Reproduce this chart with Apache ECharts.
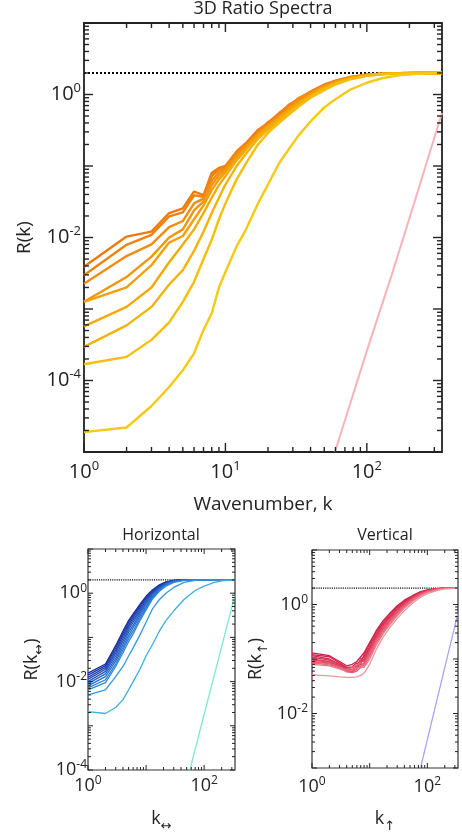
<!DOCTYPE html>
<html><head><meta charset="utf-8">
<script src="https://cdn.jsdelivr.net/npm/echarts@6/dist/echarts.min.js"></script>
<style>html,body{margin:0;padding:0;background:#fff}#c{width:462px;height:834px}</style>
</head><body><div id="c"></div>
<script>
// ---------------- DATA ----------------
const kTop = [1,2,3,4,5,6,7,8,9,10,12,14,17,20,24,28,33,40,50,60,75,100,130,170,230,340];
const top1 = [3.9e-3,1.03e-2,1.21e-2,2.2e-2,2.55e-2,4.4e-2,3.9e-2,8.0e-2,9.4e-2,0.10,0.16,0.21,0.32,0.40,0.55,0.70,0.88,1.10,1.38,1.55,1.75,1.90,1.96,1.99,2.0,2.0];
const top2 = [2.96e-3,7.9e-3,1.09e-2,1.97e-2,2.25e-2,3.9e-2,3.7e-2,7.2e-2,9.0e-2,0.097,0.155,0.20,0.30,0.41,0.52,0.72,0.85,1.08,1.35,1.56,1.74,1.89,1.96,1.99,2.0,2.0];
const top3 = [2.25e-3,5.5e-3,8.0e-3,1.4e-2,1.7e-2,3.0e-2,3.5e-2,6.2e-2,8.2e-2,0.093,0.15,0.19,0.29,0.38,0.50,0.66,0.90,1.05,1.32,1.52,1.72,1.88,1.95,1.99,2.0,2.0];
const top4 = [1.26e-3,2.8e-3,5.4e-3,1.0e-2,1.3e-2,2.4e-2,3.2e-2,5.4e-2,7.4e-2,0.088,0.14,0.185,0.28,0.37,0.49,0.63,0.80,1.02,1.30,1.50,1.70,1.87,1.95,1.98,2.0,2.0];
const top5 = [1.26e-3,2.0e-3,4.1e-3,8.5e-3,1.05e-2,1.8e-2,2.8e-2,4.6e-2,6.5e-2,0.082,0.13,0.18,0.27,0.36,0.47,0.61,0.78,1.0,1.27,1.48,1.69,1.86,1.94,1.98,2.0,2.0];
const top6 = [5.7e-4,1.07e-3,2.0e-3,4.5e-3,8.0e-3,1.3e-2,2.2e-2,3.6e-2,5.4e-2,0.072,0.12,0.17,0.26,0.34,0.45,0.58,0.75,0.97,1.24,1.45,1.67,1.85,1.94,1.98,2.0,2.0];
const top7 = [2.95e-4,5.9e-4,1.07e-3,2.2e-3,3.5e-3,6.5e-3,1.2e-2,2.2e-2,3.6e-2,0.055,0.10,0.15,0.24,0.32,0.43,0.56,0.72,0.94,1.20,1.42,1.65,1.84,1.93,1.98,2.0,2.0];
const top8 = [1.69e-4,2.14e-4,3.7e-4,6.5e-4,1.26e-3,2.4e-3,5.0e-3,9.3e-3,1.8e-2,0.030,0.065,0.11,0.20,0.29,0.40,0.52,0.68,0.90,1.15,1.38,1.62,1.82,1.92,1.97,2.0,2.0];
const top9 = [1.9e-5,2.2e-5,4.4e-5,8.1e-5,1.39e-4,2.4e-4,5.1e-4,8.7e-4,2.0e-3,3.3e-3,7.5e-3,1.3e-2,3.0e-2,5.5e-2,0.11,0.17,0.27,0.42,0.66,0.86,1.15,1.46,1.70,1.86,1.95,2.0];
const kPinkTop = [59.5,100,150,220,340];
const pinkTop = [1e-5,2.6e-4,3.0e-3,3.4e-2,0.55];

const kBlue = [1,2,3,4,5,6,8,10,13,17,22,30,45,70,100,150,200,340];
const blue1 = [1.55e-2,2.5e-2,6.5e-2,0.14,0.24,0.34,0.58,0.85,1.2,1.55,1.8,1.95,2.0,2.0,2.0,2.0,2.0,2.0];
const blue2 = [1.4e-2,2.3e-2,5.8e-2,0.125,0.215,0.31,0.54,0.80,1.15,1.5,1.78,1.94,2.0,2.0,2.0,2.0,2.0,2.0];
const blue3 = [1.25e-2,2.1e-2,5.0e-2,0.11,0.19,0.28,0.49,0.74,1.1,1.45,1.75,1.93,2.0,2.0,2.0,2.0,2.0,2.0];
const blue4 = [1.12e-2,1.9e-2,4.4e-2,0.095,0.17,0.25,0.44,0.68,1.04,1.4,1.72,1.92,2.0,2.0,2.0,2.0,2.0,2.0];
const blue5 = [1.0e-2,1.7e-2,3.8e-2,0.082,0.15,0.22,0.40,0.62,0.98,1.35,1.68,1.9,1.99,2.0,2.0,2.0,2.0,2.0];
const blue6 = [9.0e-3,1.5e-2,3.3e-2,0.070,0.13,0.19,0.36,0.56,0.92,1.3,1.64,1.88,1.99,2.0,2.0,2.0,2.0,2.0];
const blue7 = [8.0e-3,1.3e-2,2.9e-2,0.060,0.11,0.165,0.32,0.50,0.86,1.24,1.58,1.85,1.98,2.0,2.0,2.0,2.0,2.0];
const blue8 = [7.2e-3,1.1e-2,2.5e-2,0.052,0.095,0.14,0.28,0.46,0.80,1.17,1.52,1.8,1.97,2.0,2.0,2.0,2.0,2.0];
const blue9 = [6.5e-3,9.5e-3,2.2e-2,4.5e-2,8.0e-2,0.12,0.25,0.42,0.75,1.1,1.45,1.75,1.95,2.0,2.0,2.0,2.0,2.0];
const blue10 = [5.0e-3,6.5e-3,1.3e-2,2.2e-2,3.8e-2,5.8e-2,0.12,0.22,0.45,0.72,1.0,1.35,1.75,1.95,2.0,2.0,2.0,2.0];
const blue11 = [2.1e-3,1.9e-3,2.6e-3,3.9e-3,6.5e-3,1.0e-2,2.0e-2,3.8e-2,7.0e-2,0.14,0.24,0.40,0.72,1.15,1.45,1.75,1.9,2.0];
const kAqua = [56.7,340];
const aqua = [1e-4,0.92];

const kRed = [1,2,3,4,5,6,7,8,10,13,17,22,30,40,55,75,100,150,200,340];
const red1 = [0.13,0.115,0.09,0.075,0.08,0.09,0.11,0.13,0.2,0.33,0.5,0.68,0.95,1.2,1.45,1.7,1.85,1.96,1.99,2.0];
const red2 = [0.12,0.11,0.085,0.07,0.072,0.085,0.08,0.12,0.19,0.31,0.46,0.64,0.9,1.15,1.42,1.68,1.84,1.96,1.99,2.0];
const red3 = [0.115,0.1,0.08,0.068,0.07,0.075,0.1,0.11,0.17,0.28,0.44,0.6,0.85,1.1,1.38,1.65,1.82,1.95,1.99,2.0];
const red4 = [0.108,0.095,0.078,0.065,0.062,0.07,0.09,0.1,0.16,0.27,0.42,0.58,0.82,1.08,1.35,1.62,1.8,1.94,1.98,2.0];
const red5 = [0.10,0.09,0.075,0.062,0.06,0.068,0.085,0.095,0.15,0.25,0.4,0.55,0.78,1.03,1.32,1.6,1.78,1.93,1.98,2.0];
const red6 = [0.095,0.088,0.072,0.06,0.058,0.065,0.1,0.09,0.14,0.24,0.37,0.52,0.75,1.0,1.3,1.57,1.76,1.92,1.98,2.0];
const red7 = [0.09,0.085,0.07,0.062,0.065,0.07,0.075,0.085,0.13,0.22,0.35,0.5,0.72,0.97,1.27,1.55,1.75,1.92,1.97,2.0];
const red8 = [0.087,0.082,0.068,0.058,0.056,0.06,0.07,0.08,0.12,0.21,0.33,0.48,0.7,0.95,1.24,1.52,1.73,1.91,1.97,2.0];
const red9 = [0.085,0.078,0.07,0.064,0.07,0.078,0.085,0.075,0.11,0.2,0.31,0.45,0.66,0.9,1.2,1.48,1.7,1.9,1.97,2.0];
const red10 = [0.08,0.075,0.066,0.06,0.062,0.068,0.072,0.07,0.1,0.18,0.29,0.42,0.62,0.86,1.15,1.44,1.67,1.88,1.96,2.0];
const red11 = [0.051,0.049,0.047,0.046,0.046,0.047,0.05,0.055,0.08,0.15,0.25,0.37,0.55,0.77,1.05,1.35,1.58,1.82,1.93,2.0];
const kLav = [76,340];
const lav = [1e-3,0.70];

const saturationLevel = 2;
const kExtent = [1,340];
const topLabelExpX = [0,1,2], topLabelExpY = [0,-2,-4];
const hLabelExpX = [0,2], hLabelExpY = [0,-2,-4];
const vLabelExpX = [0,2], vLabelExpY = [0,-2];

// ---------------- STYLE ----------------
const FONT = 'Open Sans';
const topColors = ['#ee7a0e','#ef8311','#f18c10','#f2950e','#f39f0c','#f4a90b','#f5b20a','#f6bd0b','#f6c915'];
const blueColors = ['#1b2a9a','#1d34a4','#1f3fad','#214ab6','#2356be','#2562c6','#286ecd','#2b7ad3','#2f87d8','#3597dc','#3cb0e0'];
const redColors = ['#d01c44','#d4234a','#d82b51','#db3457','#de3e5e','#e14865','#e3526c','#e55d74','#e8687c','#ea7485','#f0959f'];

const topLines = [top1,top2,top3,top4,top5,top6,top7,top8,top9];
const blueLines = [blue1,blue2,blue3,blue4,blue5,blue6,blue7,blue8,blue9,blue10,blue11];
const redLines = [red1,red2,red3,red4,red5,red6,red7,red8,red9,red10,red11];

function pairs(ks, vs) { return ks.map((k, i) => [k, vs[i]]); }

function logTicks(minExp, maxExp, maxVal, isX) {
  const res = [];
  for (let e = minExp; e <= maxExp; e++) {
    const d = Math.pow(10, e);
    res.push(isX ? [d, 1, 0, 1] : [1, d, 1, 1]);
    if (e < maxExp || d * 2 <= maxVal) {
      for (let m = 2; m <= 9; m++) {
        const v = m * d;
        if (v <= maxVal * 1.0001) res.push(isX ? [v, 1, 0, 0] : [1, v, 1, 0]);
      }
    }
  }
  return res;
}

function fmt(exps) {
  return function (v) {
    const l = Math.log10(v), e = Math.round(l);
    if (Math.abs(l - e) > 1e-6 || exps.indexOf(e) < 0) return '';
    return '{b|10}{s|' + e + '}';
  };
}

function labelRich(fs, sfs, pad) {
  return {
    b: { fontSize: fs, fontFamily: FONT, color: '#222' },
    s: { fontSize: sfs, fontFamily: FONT, color: '#222', padding: [0, 0, pad, 0] }
  };
}

function tickSeries(gi, ticks, xr, yr, majLen, minLen, lw) {
  return {
    type: 'custom', xAxisIndex: gi, yAxisIndex: gi, silent: true, z: 6,
    data: ticks,
    renderItem: function (params, api) {
      const t = api.value(2), maj = api.value(3);
      const L = maj ? majLen : minLen;
      const st = { stroke: '#222', lineWidth: lw };
      const ch = [];
      if (t === 0) {
        const v = api.value(0);
        const a = api.coord([v, yr[0]]), b = api.coord([v, yr[1]]);
        ch.push({ type: 'line', shape: { x1: a[0], y1: a[1], x2: a[0], y2: a[1] - L }, style: st });
        ch.push({ type: 'line', shape: { x1: b[0], y1: b[1], x2: b[0], y2: b[1] + L }, style: st });
      } else {
        const v = api.value(1);
        const a = api.coord([xr[0], v]), b = api.coord([xr[1], v]);
        ch.push({ type: 'line', shape: { x1: a[0], y1: a[1], x2: a[0] + L, y2: a[1] }, style: st });
        ch.push({ type: 'line', shape: { x1: b[0], y1: b[1], x2: b[0] - L, y2: b[1] }, style: st });
      }
      return { type: 'group', children: ch };
    }
  };
}

const chart = echarts.init(document.getElementById('c'), null, { renderer: 'canvas' });

const grids = [
  { left: 84, top: 23, width: 358, height: 429, show: true, borderColor: '#222', borderWidth: 1.8 },
  { left: 88, top: 549, width: 147, height: 221, show: true, borderColor: '#333', borderWidth: 1.2 },
  { left: 312, top: 550, width: 146, height: 218, show: true, borderColor: '#333', borderWidth: 1.2 }
];
const yRanges = [[1e-5, 10], [1e-4, 10], [1e-3, 10]];

function xAxis(gi, exps, fs, sfs, pad, margin, name, nameRich, nameGap) {
  return {
    type: 'log', logBase: 10, gridIndex: gi, min: kExtent[0], max: kExtent[1],
    axisLine: { show: false }, axisTick: { show: false }, splitLine: { show: false }, minorTick: { show: false },
    axisLabel: { formatter: fmt(exps), rich: labelRich(fs, sfs, pad), margin: margin, showMinLabel: true, showMaxLabel: true, hideOverlap: false },
    name: name, nameLocation: 'middle', nameGap: nameGap,
    nameTextStyle: { rich: nameRich, fontFamily: FONT, color: '#222' }
  };
}
function yAxis(gi, exps, fs, sfs, pad, margin, name, nameRich, nameGap) {
  return {
    type: 'log', logBase: 10, gridIndex: gi, min: yRanges[gi][0], max: yRanges[gi][1],
    axisLine: { show: false }, axisTick: { show: false }, splitLine: { show: false }, minorTick: { show: false },
    axisLabel: { formatter: fmt(exps), rich: labelRich(fs, sfs, pad), margin: margin, showMinLabel: true, showMaxLabel: true, hideOverlap: false },
    name: name, nameLocation: 'middle', nameGap: nameGap, nameRotate: 90,
    nameTextStyle: { rich: nameRich, fontFamily: FONT, color: '#222' }
  };
}

const richTopX = { a: { fontSize: 19, fontFamily: FONT, color: '#222' } };
const richTopY = { a: { fontSize: 19, fontFamily: FONT, color: '#222' } };
const richSub = {
  a: { fontSize: 18, fontFamily: FONT, color: '#222' },
  s: { fontSize: 13, fontFamily: 'DejaVu Sans', color: '#222', padding: [16, 0, 0, 0] }
};

const series = [];
[0, 1, 2].forEach(gi => {
  series.push({
    type: 'line', xAxisIndex: gi, yAxisIndex: gi, showSymbol: false, silent: true, z: 2,
    data: [[kExtent[0], saturationLevel], [kExtent[1], saturationLevel]],
    lineStyle: { color: '#000', width: gi === 0 ? 2 : 1.1, type: 'dotted' }
  });
});
topLines.forEach((arr, i) => series.push({
  type: 'line', xAxisIndex: 0, yAxisIndex: 0, showSymbol: false, silent: true, z: 3,
  data: pairs(kTop, arr), lineStyle: { color: topColors[i], width: 2.4 }
}));
series.push({ type: 'line', xAxisIndex: 0, yAxisIndex: 0, showSymbol: false, silent: true, z: 3,
  data: pairs(kPinkTop, pinkTop), lineStyle: { color: '#f6b4b9', width: 2 } });
blueLines.forEach((arr, i) => series.push({
  type: 'line', xAxisIndex: 1, yAxisIndex: 1, showSymbol: false, silent: true, z: 3,
  data: pairs(kBlue, arr), lineStyle: { color: blueColors[i], width: 1.3 }
}));
series.push({ type: 'line', xAxisIndex: 1, yAxisIndex: 1, showSymbol: false, silent: true, z: 3,
  data: pairs(kAqua, aqua), lineStyle: { color: '#7ee9cf', width: 1.3 } });
redLines.forEach((arr, i) => series.push({
  type: 'line', xAxisIndex: 2, yAxisIndex: 2, showSymbol: false, silent: true, z: 3,
  data: pairs(kRed, arr), lineStyle: { color: redColors[i], width: 1.3 }
}));
series.push({ type: 'line', xAxisIndex: 2, yAxisIndex: 2, showSymbol: false, silent: true, z: 3,
  data: pairs(kLav, lav), lineStyle: { color: '#a99ef3', width: 1.2 } });

series.push(tickSeries(0, logTicks(0, 2, 340, true).concat(logTicks(-5, 1, 10, false)), kExtent, yRanges[0], 9, 5, 1.4));
series.push(tickSeries(1, logTicks(0, 2, 340, true).concat(logTicks(-4, 1, 10, false)), kExtent, yRanges[1], 5, 3, 1));
series.push(tickSeries(2, logTicks(0, 2, 340, true).concat(logTicks(-3, 1, 10, false)), kExtent, yRanges[2], 5, 3, 1));

const option = {
  animation: false,
  backgroundColor: '#fff',
  title: [
    { text: '3D Ratio Spectra', left: 263, top: 0, textAlign: 'center', padding: 0,
      textStyle: { fontFamily: FONT, fontSize: 18, fontWeight: 'normal', color: '#222' } },
    { text: 'Horizontal', left: 161, top: 527, textAlign: 'center', padding: 0,
      textStyle: { fontFamily: FONT, fontSize: 16, fontWeight: 'normal', color: '#222' } },
    { text: 'Vertical', left: 385, top: 527, textAlign: 'center', padding: 0,
      textStyle: { fontFamily: FONT, fontSize: 16, fontWeight: 'normal', color: '#222' } }
  ],
  grid: grids,
  xAxis: [
    xAxis(0, topLabelExpX, 20, 13, 12, 8, '{a|Wavenumber, k}', richTopX, 43),
    xAxis(1, hLabelExpX, 18, 12, 10, 5, '{a|k}{s|↔}', richSub, 34),
    xAxis(2, vLabelExpX, 18, 12, 10, 8, '{a|k}{s|↑}', richSub, 36)
  ],
  yAxis: [
    yAxis(0, topLabelExpY, 20, 13, 12, 3, '{a|R(k)}', richTopY, 50),
    yAxis(1, hLabelExpY, 18, 12, 10, 1, '{a|R(k}{s|↔}{a|)}', richSub, 42),
    yAxis(2, vLabelExpY, 18, 12, 10, 4, '{a|R(k}{s|↑}{a|)}', richSub, 42)
  ],
  series: series
};
chart.setOption(option);
</script></body></html>
